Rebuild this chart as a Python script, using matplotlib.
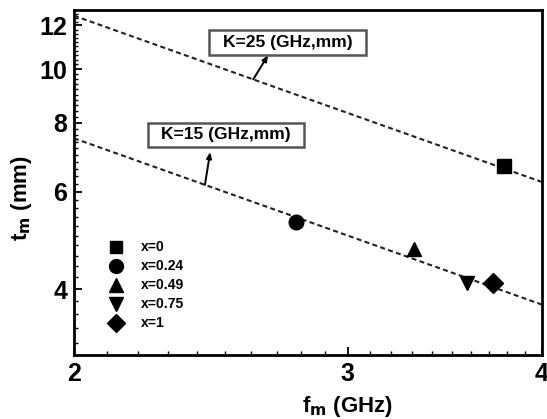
import matplotlib
matplotlib.use("Agg")
import matplotlib.pyplot as plt
from matplotlib.ticker import FixedLocator, NullFormatter, FixedFormatter
from matplotlib.patches import Rectangle
import numpy as np

plt.rcParams['font.family'] = ['Liberation Sans', 'DejaVu Sans']
plt.rcParams['font.weight'] = 'bold'

# Data
labels = ['x=0', 'x=0.24', 'x=0.49', 'x=0.75', 'x=1']
markers = ['s', 'o', '^', 'v', 'D']
f_m = [3.78, 2.78, 3.31, 3.58, 3.72]
t_m = [6.68, 5.29, 4.73, 4.10, 4.10]

line_f = [2.0, 4.0]
k25_t = [12.5, 6.25]
k15_t = [7.5, 3.75]

x_ticks = [2, 3, 4]
y_ticks = [4, 6, 8, 10, 12]

fig = plt.figure(figsize=(5.47, 4.19), dpi=100)
ax = fig.add_axes([74/547, 1-355/419, 468/547, 345/419])
ax.set_xscale('log')
ax.set_yscale('log')
ax.set_xlim(2, 4)
ax.set_ylim(3.04, 12.8)

ax.plot(line_f, k25_t, color='#222222', ls=(0, (2.4, 1.6)), lw=1.5, zorder=2)
ax.plot(line_f, k15_t, color='#222222', ls=(0, (2.4, 1.6)), lw=1.5, zorder=2)

ms = [9.5, 10.5, 10.5, 10.5, 10]
for f, t, m, lab, s in zip(f_m, t_m, markers, labels, ms):
    ax.plot([f], [t], ls='none', marker=m, ms=s, color='black', label=lab, zorder=3)

# ticks
ax.xaxis.set_major_locator(FixedLocator(x_ticks))
ax.xaxis.set_major_formatter(FixedFormatter([str(v) for v in x_ticks]))
ax.xaxis.set_minor_locator(FixedLocator(np.arange(2.1, 4.0, 0.1)))
ax.xaxis.set_minor_formatter(NullFormatter())
ax.yaxis.set_major_locator(FixedLocator(y_ticks))
ax.yaxis.set_major_formatter(FixedFormatter([str(v) for v in y_ticks]))
ax.yaxis.set_minor_locator(FixedLocator(np.arange(3.2, 12.8, 0.2)))
ax.yaxis.set_minor_formatter(NullFormatter())
ax.tick_params(which='both', direction='in', top=False, right=False)
ax.tick_params(which='major', length=6, width=1.3, labelsize=18, pad=5)
ax.tick_params(which='minor', length=3, width=1.0)
for lab in ax.get_xticklabels() + ax.get_yticklabels():
    lab.set_fontweight('bold')
for sp in ax.spines.values():
    sp.set_linewidth(2)

ax.set_xlabel(r'f$_\mathbf{m}$ (GHz)', fontsize=16, fontweight='bold')
ax.set_ylabel(r't$_\mathbf{m}$ (mm)', fontsize=16, fontweight='bold')
ax.xaxis.set_label_coords(0.585, -0.112)
ax.yaxis.set_label_coords(-0.085, 0.455)

# annotation boxes
for (x0, x1, y0, y1) in [(0.2885, 0.624, 0.870, 0.942), (0.158, 0.491, 0.603, 0.6725)]:
    ax.add_patch(Rectangle((x0, y0), x1 - x0, y1 - y0, transform=ax.transAxes,
                           fc='white', ec='#555555', lw=1.8, zorder=4))
ax.text(0.456, 0.906, 'K=25 (GHz,mm)', transform=ax.transAxes, ha='center', va='center',
        fontsize=12.5, fontweight='bold', zorder=5)
ax.text(0.325, 0.638, 'K=15 (GHz,mm)', transform=ax.transAxes, ha='center', va='center',
        fontsize=12.5, fontweight='bold', zorder=5)

arr = dict(arrowstyle='-|>,head_length=0.35,head_width=0.15', color='black', lw=1.4,
           shrinkA=0, shrinkB=0)
ax.annotate('', xy=(2.666, 10.6), xytext=(2.608, 25/2.608), arrowprops=arr)
ax.annotate('', xy=(2.447, 7.08), xytext=(2.428, 15/2.428), arrowprops=arr)

leg = ax.legend(loc='upper left', bbox_to_anchor=(0.062, 0.348), frameon=False,
                prop={'size': 10, 'weight': 'bold'}, handlelength=1.0, handletextpad=1.3,
                labelspacing=0.36, markerscale=0.95, borderaxespad=0)

fig.savefig('out.png', dpi=100)
